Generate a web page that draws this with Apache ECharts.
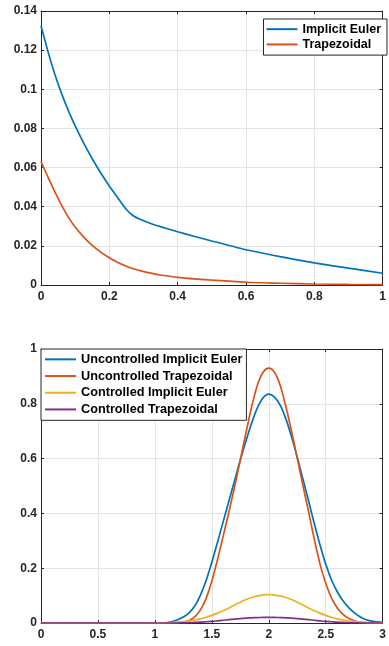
<!DOCTYPE html>
<html>
<head>
<meta charset="utf-8">
<script src="https://cdn.jsdelivr.net/npm/echarts@6/dist/echarts.min.js"></script>
<style>
  html, body { margin: 0; padding: 0; background: #fff; }
  #chart { width: 389px; height: 646px; }
</style>
</head>
<body>
<div id="chart"></div>
<script>
// top panel
const topX = [0, 0.02, 0.04, 0.06, 0.08, 0.1, 0.125, 0.15, 0.175, 0.2, 0.225, 0.25, 0.27, 0.295, 0.325, 0.35, 0.4, 0.45, 0.5, 0.6, 0.7, 0.8, 0.9, 1.0];
const topImplicitEuler = [0.1325, 0.1195, 0.1079, 0.0979, 0.0891, 0.0813, 0.0725, 0.0645, 0.0572, 0.0506, 0.0445, 0.0386, 0.0354, 0.0332, 0.0312, 0.0298, 0.0272, 0.0248, 0.0225, 0.018, 0.0145, 0.0113, 0.0086, 0.006];
const topTrapezoidal = [0.063, 0.0553, 0.0478, 0.0408, 0.0347, 0.0296, 0.0245, 0.0203, 0.0168, 0.0139, 0.0115, 0.0096, 0.0083, 0.0071, 0.0059, 0.0051, 0.0039, 0.0031, 0.0025, 0.0014, 0.0009, 0.0005, 0.0003, 0.0002];
const topXTicks = ['0', '0.2', '0.4', '0.6', '0.8', '1'];
const topYTicks = ['0', '0.02', '0.04', '0.06', '0.08', '0.1', '0.12', '0.14'];

// bottom panel
const botX = [0, 0.5, 1.0, 1.05, 1.1, 1.15, 1.2, 1.25, 1.3, 1.35, 1.4, 1.45, 1.5, 1.55, 1.6, 1.65, 1.7, 1.75, 1.8, 1.85, 1.9, 1.95,
  2.0, 2.05, 2.1, 2.15, 2.2, 2.25, 2.3, 2.35, 2.4, 2.45, 2.5, 2.55, 2.6, 2.65, 2.7, 2.75, 2.8, 2.85, 2.9, 2.95, 3.0];
const uncontrolledIE = [0, 0, 0, 0.0005, 0.001, 0.005, 0.012, 0.022, 0.037, 0.062, 0.102, 0.155, 0.222, 0.295, 0.37, 0.445, 0.52, 0.595, 0.665, 0.73, 0.785, 0.822,
  0.835, 0.824, 0.795, 0.745, 0.68, 0.605, 0.525, 0.445, 0.362, 0.285, 0.215, 0.158, 0.115, 0.082, 0.057, 0.038, 0.023, 0.013, 0.007, 0.004, 0.002];
const uncontrolledTrap = [0, 0, 0, 0, 0, 0.0005, 0.001, 0.003, 0.009, 0.022, 0.048, 0.09, 0.152, 0.232, 0.318, 0.405, 0.498, 0.595, 0.695, 0.79, 0.868, 0.915,
  0.93, 0.915, 0.868, 0.79, 0.7, 0.602, 0.502, 0.405, 0.305, 0.215, 0.145, 0.092, 0.056, 0.032, 0.017, 0.008, 0.003, 0.001, 0, 0, 0];
const controlledIE = [0, 0, 0, 0.0005, 0.001, 0.002, 0.003, 0.005, 0.007, 0.011, 0.015, 0.021, 0.028, 0.036, 0.045, 0.055, 0.066, 0.076, 0.086, 0.093, 0.099, 0.102,
  0.104, 0.102, 0.099, 0.093, 0.086, 0.076, 0.066, 0.055, 0.045, 0.036, 0.028, 0.021, 0.015, 0.011, 0.007, 0.005, 0.003, 0.002, 0.001, 0.0005, 0];
const controlledTrap = [0, 0, 0, 0, 0, 0, 0, 0.0005, 0.001, 0.002, 0.003, 0.0045, 0.006, 0.008, 0.01, 0.012, 0.014, 0.016, 0.018, 0.019, 0.0198, 0.0203,
  0.0205, 0.0203, 0.0198, 0.019, 0.018, 0.016, 0.014, 0.012, 0.01, 0.008, 0.006, 0.0045, 0.003, 0.002, 0.001, 0.0005, 0, 0, 0, 0, 0];
const botXTicks = ['0', '0.5', '1', '1.5', '2', '2.5', '3'];
const botYTicks = ['0', '0.2', '0.4', '0.6', '0.8', '1'];

const FONT = '"Liberation Sans", Arial, sans-serif';
const FRAME = '#262626';
const GRIDLINE = '#e3e3e3';
const colors = ['#0072BD', '#D95319', '#EDB120', '#7E2F8E'];

const pairs = (xs, ys) => xs.map((x, i) => [x, ys[i]]);

// main axis (labels + gridlines) or mirror axis (frame + ticks only)
const xAxisFor = (grid, max, step, ticks, mirror) => ({
    type: 'value',
    gridIndex: grid,
    position: mirror ? 'top' : 'bottom',
    min: 0,
    max: max,
    interval: step,
    axisLine: { show: true, onZero: false, lineStyle: { color: FRAME, width: 1 } },
    axisTick: { show: true, inside: true, length: 3, lineStyle: { color: FRAME } },
    splitLine: { show: !mirror, lineStyle: { color: GRIDLINE, width: 1 } },
    axisLabel: {
        show: !mirror,
        margin: 6,
        fontFamily: FONT,
        fontSize: 12,
        fontWeight: 'bold',
        color: FRAME,
        formatter: v => ticks[Math.round(v / step)],
    },
});

const yAxisFor = (grid, max, step, ticks, mirror) => ({
    type: 'value',
    gridIndex: grid,
    position: mirror ? 'right' : 'left',
    min: 0,
    max: max,
    interval: step,
    axisLine: { show: true, onZero: false, lineStyle: { color: FRAME, width: 1 } },
    axisTick: { show: true, inside: true, length: 3, lineStyle: { color: FRAME } },
    splitLine: { show: !mirror, lineStyle: { color: GRIDLINE, width: 1 } },
    axisLabel: {
        show: !mirror,
        margin: 4,
        fontFamily: FONT,
        fontSize: 12,
        fontWeight: 'bold',
        color: FRAME,
        formatter: v => ticks[Math.round(v / step)],
    },
});

const lineSeries = (name, data, axisIdx, color, smooth) => ({
    name,
    type: 'line',
    data,
    xAxisIndex: axisIdx,
    yAxisIndex: axisIdx,
    symbol: 'none',
    smooth: smooth,
    color,
    lineStyle: { width: 1.7, color },
    emphasis: { disabled: true },
});

const legendStyle = {
    orient: 'vertical',
    backgroundColor: '#fff',
    borderColor: FRAME,
    borderWidth: 1,
    borderRadius: 0,
    icon: 'rect',
    itemWidth: 31,
    itemHeight: 2,
    itemGap: 0,
    selectedMode: false,
    textStyle: { fontFamily: FONT, fontWeight: 'bold', color: '#000' },
};

const option = {
    animation: false,
    color: colors,
    grid: [
        { left: 41, top: 11, width: 347, height: 274, containLabel: false },
        { left: 41, top: 349, width: 347, height: 274, containLabel: false },
    ],
    xAxis: [
        xAxisFor(0, 1, 0.2, topXTicks, false),
        xAxisFor(0, 1, 0.2, topXTicks, true),
        xAxisFor(1, 3, 0.5, botXTicks, false),
        xAxisFor(1, 3, 0.5, botXTicks, true),
    ],
    yAxis: [
        yAxisFor(0, 0.14, 0.02, topYTicks, false),
        yAxisFor(0, 0.14, 0.02, topYTicks, true),
        yAxisFor(1, 1, 0.2, botYTicks, false),
        yAxisFor(1, 1, 0.2, botYTicks, true),
    ],
    legend: [
        {
            ...legendStyle,
            data: ['Implicit Euler', 'Trapezoidal'],
            right: 2,
            top: 19,
            padding: [2.5, 6, 3, 3],
            textStyle: { ...legendStyle.textStyle, fontSize: 12.5, lineHeight: 15.3 },
        },
        {
            ...legendStyle,
            data: ['Uncontrolled Implicit Euler', 'Uncontrolled Trapezoidal', 'Controlled Implicit Euler', 'Controlled Trapezoidal'],
            left: 41,
            top: 349,
            padding: [2, 4, 2.5, 4],
            textStyle: { ...legendStyle.textStyle, fontSize: 12.7, lineHeight: 16.7 },
        },
    ],
    series: [
        lineSeries('Implicit Euler', pairs(topX, topImplicitEuler), 0, colors[0], 0.15),
        lineSeries('Trapezoidal', pairs(topX, topTrapezoidal), 0, colors[1], 0.3),
        lineSeries('Uncontrolled Implicit Euler', pairs(botX, uncontrolledIE), 2, colors[0], 0.3),
        lineSeries('Uncontrolled Trapezoidal', pairs(botX, uncontrolledTrap), 2, colors[1], 0.3),
        lineSeries('Controlled Implicit Euler', pairs(botX, controlledIE), 2, colors[2], 0.3),
        lineSeries('Controlled Trapezoidal', pairs(botX, controlledTrap), 2, colors[3], 0.3),
    ],
};

const chart = echarts.init(document.getElementById('chart'), null, { renderer: 'canvas' });
chart.setOption(option);
</script>
</body>
</html>
